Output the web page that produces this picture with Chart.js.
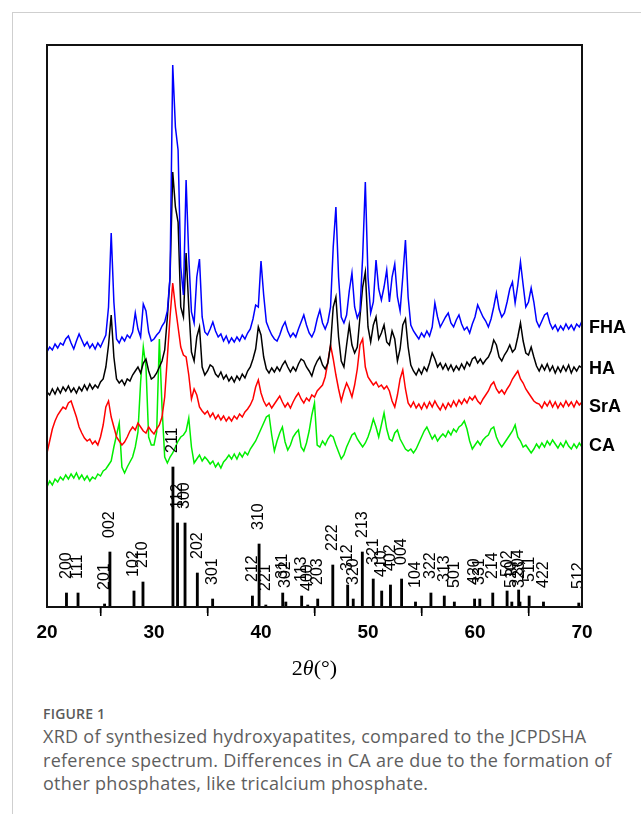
<!DOCTYPE html>
<html>
<head>
<meta charset="utf-8">
<script src="https://cdn.jsdelivr.net/npm/chart.js@4.4.1/dist/chart.umd.min.js"></script>
<style>
  html, body { margin:0; padding:0; background:#fff; }
  body { width:641px; height:814px; position:relative; overflow:hidden; }
  #frame { position:absolute; left:12px; top:12px; width:640px; height:820px;
           border-top:1px solid #cfcfcf; border-left:1px solid #cfcfcf; }
  #wrap { position:absolute; left:0; top:0; width:641px; height:700px; }
  #xtitle { position:absolute; left:0; width:629px; top:655px; text-align:center;
            font-family:'Liberation Serif','Times New Roman',serif; font-size:22px; color:#000; }
  #figlab { position:absolute; left:43px; top:704px; font-family:'Open Sans',sans-serif;
            font-size:14px; color:#5a5a5a; font-weight:600; letter-spacing:0.2px; }
  #caption { position:absolute; left:43px; top:725px; width:598px; font-family:'Open Sans',sans-serif;
             font-size:18px; line-height:23.5px; color:#5e5e5e; letter-spacing:0.27px; white-space:nowrap; }
</style>
</head>
<body>
<div id="frame"></div>
<div id="wrap"><canvas id="c" width="641" height="700"></canvas></div>
<div id="xtitle">2<i>θ</i>(°)</div>
<div id="figlab">FIGURE 1</div>
<div id="caption">XRD of synthesized hydroxyapatites, compared to the JCPDSHA<br>reference spectrum. Differences in CA are due to the formation of<br>other phosphates, like tricalcium phosphate.</div>
<script>
// 2θ sampling positions (degrees)
const twoTheta = [
20,20.25,20.5,20.75,21,21.25,21.5,21.75,22,22.25,22.5,22.75,23,23.25,23.5,23.75,24,24.25,24.5,24.75,
25,25.25,25.5,25.75,26,26.25,26.5,26.75,27,27.25,27.5,27.75,28,28.25,28.5,28.75,29,29.25,29.5,29.75,
30,30.25,30.5,30.75,31,31.25,31.5,31.75,32,32.25,32.5,32.75,33,33.25,33.5,33.75,34,34.25,34.5,34.75,
35,35.25,35.5,35.75,36,36.25,36.5,36.75,37,37.25,37.5,37.75,38,38.25,38.5,38.75,39,39.25,39.5,39.75,
40,40.25,40.5,40.75,41,41.25,41.5,41.75,42,42.25,42.5,42.75,43,43.25,43.5,43.75,44,44.25,44.5,44.75,
45,45.25,45.5,45.75,46,46.25,46.5,46.75,47,47.25,47.5,47.75,48,48.25,48.5,48.75,49,49.25,49.5,49.75,
50,50.25,50.5,50.75,51,51.25,51.5,51.75,52,52.25,52.5,52.75,53,53.25,53.5,53.75,54,54.25,54.5,54.75,
55,55.25,55.5,55.75,56,56.25,56.5,56.75,57,57.25,57.5,57.75,58,58.25,58.5,58.75,59,59.25,59.5,59.75,
60,60.25,60.5,60.75,61,61.25,61.5,61.75,62,62.25,62.5,62.75,63,63.25,63.5,63.75,64,64.25,64.5,64.75,
65,65.25,65.5,65.75,66,66.25,66.5,66.75,67,67.25,67.5,67.75,68,68.25,68.5,68.75,69,69.25,69.5,69.75,
70];

// Intensities (arbitrary units, stacked offsets included)
const fha = [
255,260,257,263,259,264,262,268,271,264,258,266,273,267,261,265,259,263,258,264,
260,266,272,300,374,305,268,264,270,266,272,269,275,294,278,270,303,296,275,266,
268,272,275,281,285,296,330,542,480,457,340,312,427,350,295,284,330,348,290,275,
272,278,285,276,270,273,266,271,264,269,265,270,266,272,268,274,278,288,302,300,
346,312,285,278,272,268,266,272,280,285,276,270,274,270,278,285,292,282,274,270,
276,288,297,284,278,285,300,360,400,330,290,284,292,316,334,300,289,296,350,425,
330,294,305,347,318,307,320,337,305,330,343,310,296,330,367,310,282,276,272,268,
274,270,276,271,280,304,290,280,285,290,294,284,280,287,292,283,277,280,274,283,
290,302,296,290,286,280,288,300,314,298,290,294,305,318,325,304,322,345,322,300,
305,319,305,286,280,286,292,294,284,278,282,276,281,277,283,278,282,277,283,280,
286];
const ha = [
215,212,218,213,219,214,220,216,221,215,219,214,220,216,222,217,223,218,222,219,
225,228,240,262,292,250,228,224,227,222,228,226,232,236,240,234,244,248,236,228,
230,234,240,246,257,290,330,435,400,385,300,290,354,300,255,246,270,280,240,232,
236,242,240,233,230,235,228,232,226,230,225,231,227,233,229,236,240,248,258,280,
272,250,238,234,239,235,240,236,242,246,240,235,240,236,243,248,246,240,236,231,
240,246,250,242,238,244,262,300,310,270,246,240,262,282,262,254,260,290,320,335,
280,265,282,290,268,274,282,265,262,276,268,246,258,282,288,260,242,236,232,238,
233,240,236,244,254,248,240,244,238,243,237,242,236,241,237,243,238,245,241,248,
250,244,248,243,247,250,256,267,262,250,246,252,256,262,255,258,270,284,266,254,
252,260,250,241,236,242,237,243,236,241,234,240,235,241,236,242,234,240,236,241,
239];
const sra = [
154,166,178,186,192,196,200,198,204,206,198,190,180,174,169,166,168,163,166,162,
170,182,200,206,190,180,170,166,162,165,170,176,180,177,184,180,176,174,180,176,
173,178,182,190,210,250,290,324,300,280,260,252,250,232,208,218,212,200,196,193,
196,190,194,188,192,187,191,186,190,186,191,188,193,190,195,198,202,208,220,227,
214,206,201,204,199,203,207,211,205,200,204,199,205,210,214,208,204,209,206,212,
210,216,219,222,230,245,262,248,232,218,206,216,224,218,210,222,238,262,268,240,
230,226,222,225,220,222,218,221,216,206,200,212,228,237,218,204,200,205,199,203,
198,204,199,205,200,206,201,197,203,198,204,200,206,201,207,203,208,204,210,207,
211,206,203,208,212,216,222,225,218,214,217,213,218,222,228,232,236,228,224,218,
214,210,206,204,203,199,205,201,206,200,205,199,204,200,206,201,205,200,206,202,
205];
const ca = [
120,126,122,128,125,130,127,132,128,133,129,134,128,132,127,131,126,130,128,133,
131,136,138,142,146,160,172,184,140,134,140,145,150,160,175,225,260,240,170,162,
162,175,268,200,150,144,150,154,160,166,170,172,176,189,160,144,148,152,146,150,
147,143,146,140,144,139,145,148,152,148,153,148,154,150,155,152,158,162,166,172,
178,184,190,192,172,156,166,174,180,165,157,162,170,174,177,160,156,164,176,192,
204,162,160,166,162,168,172,170,162,155,148,152,160,166,172,174,168,164,160,164,
170,178,188,180,170,182,194,178,168,166,174,177,168,163,158,156,158,154,158,164,
170,176,180,174,168,172,166,170,173,170,176,172,178,175,180,182,186,178,166,158,
162,166,162,167,170,172,178,180,170,164,160,164,168,172,176,182,170,166,160,162,
158,154,158,163,159,164,160,166,162,167,163,159,164,160,166,161,158,163,159,164,
160];

// JCPDS hydroxyapatite reference lines
const refPos = [21.82,22.90,25.38,25.88,28.13,28.97,31.77,32.20,32.90,34.05,35.48,39.20,39.82,40.45,42.03,42.32,43.80,44.37,45.30,46.71,48.10,48.62,49.47,50.49,51.28,52.10,53.14,54.44,55.88,57.13,58.07,59.96,60.45,61.66,63.00,63.44,64.08,64.20,65.06,66.40,69.70];
const refInt = [14,14,3,55,16,25,140,84,84,34,8,11,63,2,14,5,11,2,8,42,22,8,55,28,16,22,28,5,14,11,5,8,8,14,16,5,17,5,11,5,4];
const refHkl = ["200","111","201","002","102","210","211","112","300","202","301","212","310","221","311","302","113","400","203","222","312","320","213","321","410","402","004","104","322","313","501","420","331","214","502","510","304","323","511","422","512"];

const seriesNames = ["FHA","HA","SrA","CA"];
const seriesColors = ["#0000ff","#000000","#ff0000","#00ee00"];
const seriesLabelY = [279,238,200,161];
const xTicksMajor = [20,30,40,50,60,70];
const xTicksMinor = [25,35,45,55,65];

const toXY = arr => arr.map((v,i)=>({x:twoTheta[i], y:v}));
const seriesData = [fha, ha, sra, ca];

const FONT = "'Liberation Sans', Arial, sans-serif";

const overlay = {
  id:'overlay',
  afterDatasetsDraw(chart){
    const {ctx, scales:{x,y}} = chart;
    ctx.save();
    ctx.fillStyle = '#000';
    ctx.font = '16px ' + FONT;
    ctx.textAlign = 'left';
    ctx.textBaseline = 'middle';
    refPos.forEach((p,i)=>{
      const px = x.getPixelForValue(p);
      const py = y.getPixelForValue(refInt[i]) - 14;
      ctx.save();
      ctx.translate(px, py);
      ctx.rotate(-Math.PI/2);
      ctx.fillText(refHkl[i], 0, 0);
      ctx.restore();
    });
    ctx.restore();
  },
  afterDraw(chart){
    const {ctx, chartArea:a, scales:{x,y}} = chart;
    ctx.save();
    ctx.strokeStyle = '#111';
    ctx.lineWidth = 2;
    ctx.strokeRect(a.left, a.top, a.right-a.left, a.bottom-a.top);
    ctx.lineWidth = 1.5;
    ctx.strokeStyle = '#000';
    xTicksMinor.forEach(v=>{
      const px = x.getPixelForValue(v);
      ctx.beginPath(); ctx.moveTo(px, a.bottom); ctx.lineTo(px, a.bottom+6); ctx.stroke();
    });
    ctx.fillStyle = '#000';
    ctx.font = 'bold 18px ' + FONT;
    ctx.textAlign = 'left';
    ctx.textBaseline = 'middle';
    seriesNames.forEach((n,i)=>{
      ctx.fillText(n, a.right + 7, y.getPixelForValue(seriesLabelY[i]));
    });
    ctx.restore();
  }
};

const datasets = seriesData.map((d,i)=>({
  type:'line', label:seriesNames[i], data:toXY(d),
  borderColor:seriesColors[i], borderWidth:1.5, pointRadius:0, tension:0, fill:false
}));
datasets.push({
  type:'bar', label:'JCPDS', data:refPos.map((p,i)=>({x:p, y:refInt[i]})),
  backgroundColor:'#000', borderWidth:0, barThickness:2.2, grouped:false
});

new Chart(document.getElementById('c'), {
  type:'line',
  data:{ datasets },
  options:{
    responsive:false, animation:false, devicePixelRatio:1,
    layout:{ padding:{ left:47, right:59, top:45, bottom:0 } },
    plugins:{ legend:{display:false}, tooltip:{enabled:false} },
    scales:{
      x:{
        type:'linear', min:20, max:70, offset:false,
        afterBuildTicks(s){ s.ticks = xTicksMajor.map(v=>({value:v})); },
        afterFit(s){ s.height = 93; },
        ticks:{ font:{family:FONT, size:19, weight:'bold'}, color:'#000', padding:5, maxRotation:0, autoSkip:false },
        grid:{ display:true, drawOnChartArea:false, drawTicks:true, tickLength:9, color:'#000', lineWidth:1.5 },
        border:{ display:false }
      },
      y:{ type:'linear', min:0, max:562, display:false }
    }
  },
  plugins:[overlay]
});
</script>
</body>
</html>
